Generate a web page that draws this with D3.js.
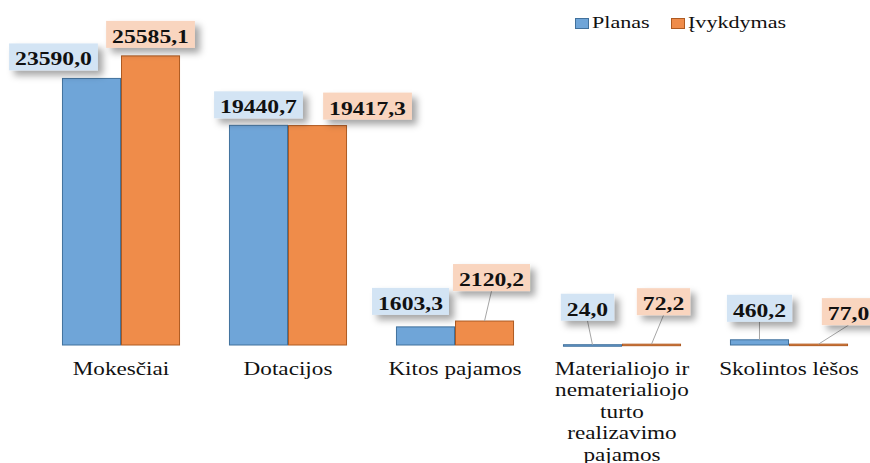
<!DOCTYPE html>
<html>
<head>
<meta charset="utf-8">
<script src="https://cdn.jsdelivr.net/npm/d3@7"></script>
<style>
  html, body { margin: 0; padding: 0; background: #fff; }
  svg { display: block; }
  svg text { font-family: "Liberation Serif", "DejaVu Serif", serif; }
</style>
</head>
<body>
<svg id="chart" width="870" height="463"></svg>
<script>
// data
const categories = ["Mokesčiai", "Dotacijos", "Kitos pajamos",
  "Materialiojo ir\nnematerialiojo\nturto\nrealizavimo\npajamos", "Skolintos lėšos"];
const series = ["Planas", "Įvykdymas"];
const planas = [23590.0, 19440.7, 1603.3, 24.0, 460.2];
const ivykdymas = [25585.1, 19417.3, 2120.2, 72.2, 77.0];

// manual label placement (dx from bar centre, gap above bar top), like the moved excel labels
const labelNudges = [
  [[-38, 8], [0, 8]],
  [[0, 7], [50, 6]],
  [[-15, 12], [7, 30]],
  [[-5, 24], [12, 29]],
  [[0, 18], [30, 19]]
];

var width = 870, height = 463
var baseY = 345
var stretch = 1.22  // the original picture is stretched sideways

var colors = { fill: ["#6fa5d8", "#ef8c4a"], stroke: ["#41719c", "#ae5a21"], box: ["#d3e4f4", "#f9d5bf"] }

var svg = d3.select("#chart")

var defs = svg.append("defs")
var shadow = defs.append("filter").attr("id", "shadow")
  .attr("x", "-20%").attr("y", "-30%").attr("width", "150%").attr("height", "180%")
shadow.append("feDropShadow")
  .attr("dx", 5).attr("dy", 5).attr("stdDeviation", 3.5)
  .attr("flood-color", "#000").attr("flood-opacity", 0.35)

var x0 = d3.scaleBand()
  .domain(categories)
  .range([37.5, 872.5])
  .paddingInner(0.293)
  .paddingOuter(0.1465)

var x1 = d3.scaleBand()
  .domain(series)
  .range([0, x0.bandwidth()])

var y = d3.scaleLinear()
  .domain([0, 30000])
  .range([baseY, 6])

var rows = categories.map((c, i) => ({
  cat: c,
  vals: [planas[i], ivykdymas[i]].map((v, s) => ({ cat: c, i: i, s: s, key: series[s], value: v }))
}))

var fmt = (v) => d3.format(".1f")(v).replace(".", ",")

// bars
var groups = svg.append("g").selectAll("g")
  .data(rows)
  .join("g")
  .attr("transform", (d) => `translate(${x0(d.cat)},0)`)

groups.selectAll("rect")
  .data((d) => d.vals)
  .join("rect")
  .attr("x", (d) => x1(d.key) + 0.5)
  .attr("y", (d) => y(d.value))
  .attr("width", x1.bandwidth() - 1)
  .attr("height", (d) => Math.max(1.5, baseY - y(d.value)))
  .attr("fill", (d) => colors.fill[d.s])
  .attr("stroke", (d) => colors.stroke[d.s])
  .attr("stroke-width", 1)

// value labels
var all = rows.flatMap((r) => r.vals)
var labels = svg.append("g")

all.forEach(function(d) {
  var nudge = labelNudges[d.i][d.s]
  var barX = x0(d.cat) + x1(d.key) + x1.bandwidth() / 2
  var barTop = y(d.value)
  var cx = barX + nudge[0]
  var boxBottom = barTop - nudge[1]
  var g = labels.append("g")

  var t = g.append("text")
    .attr("transform", `translate(${cx},${boxBottom - 5}) scale(${stretch * 1.02},1)`)
    .attr("text-anchor", "middle")
    .attr("font-weight", "bold")
    .attr("font-size", 19)
    .attr("fill", "#111")
    .text(fmt(d.value))

  var w = t.node().getComputedTextLength() * stretch * 1.02 + 12
  var h = 27

  if (nudge[1] > 15) {
    g.insert("line", "text")
      .attr("x1", cx).attr("y1", boxBottom)
      .attr("x2", barX).attr("y2", barTop)
      .attr("stroke", "#a6a6a6")
      .attr("stroke-width", 1)
  }

  g.insert("rect", "text")
    .attr("x", cx - w / 2)
    .attr("y", boxBottom - h)
    .attr("width", w)
    .attr("height", h)
    .attr("fill", colors.box[d.s])
    .attr("filter", "url(#shadow)")
})

// category labels
svg.append("g").selectAll("text")
  .data(categories)
  .join("text")
  .attr("transform", (d) => `translate(${x0(d) + x0.bandwidth() / 2},375) scale(${stretch},1)`)
  .attr("text-anchor", "middle")
  .attr("font-size", 19)
  .attr("fill", "#111")
  .each(function(d) {
    var lines = d.split("\n")
    d3.select(this).selectAll("tspan")
      .data(lines)
      .join("tspan")
      .attr("x", 0)
      .attr("dy", (l, k) => k === 0 ? 0 : 21.5)
      .text((l) => l)
  })

// legend
var legendX = [575, 671]
var legend = svg.append("g")
series.forEach(function(s, k) {
  legend.append("rect")
    .attr("x", legendX[k] + 0.5).attr("y", 18.5)
    .attr("width", 13).attr("height", 10)
    .attr("fill", colors.fill[k])
    .attr("stroke", colors.stroke[k])
  legend.append("text")
    .attr("transform", `translate(${legendX[k] + 17},28) scale(1.3,1)`)
    .attr("font-size", 17)
    .attr("fill", "#111")
    .text(s)
})
</script>
</body>
</html>
